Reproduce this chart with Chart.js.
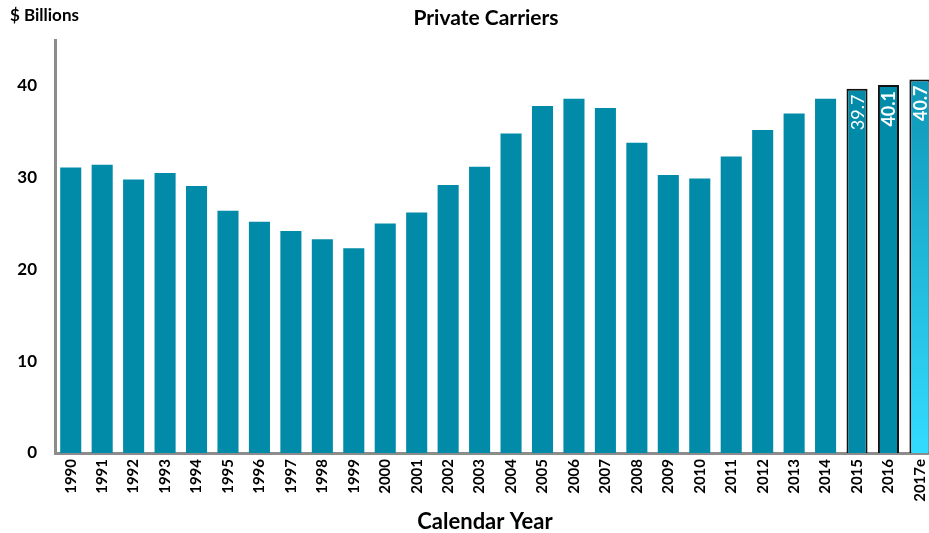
<!DOCTYPE html>
<html>
<head>
<meta charset="utf-8">
<script src="https://cdn.jsdelivr.net/npm/chart.js@4.4.1/dist/chart.umd.min.js"></script>
<style>
  html, body { margin: 0; padding: 0; background: #fff; overflow: hidden; }
  .wrap { width: 944px; height: 533px; }
</style>
</head>
<body>
<div class="wrap"><canvas id="chart-1" width="944" height="533"></canvas></div>
<script>
const years = ['1990','1991','1992','1993','1994','1995','1996','1997','1998','1999',
  '2000','2001','2002','2003','2004','2005','2006','2007','2008','2009',
  '2010','2011','2012','2013','2014','2015','2016','2017e'];
const premiums = [31.1,31.4,29.8,30.5,29.1,26.4,25.2,24.2,23.3,22.3,
  25.0,26.2,29.2,31.2,34.8,37.8,38.6,37.6,33.8,30.3,
  29.9,32.3,35.2,37.0,38.6,39.7,40.1,40.7];
const labelled = ['2015','2016','2017e'];
const yTicks = [0,10,20,30,40];

const teal = '#028ba8';
const font = 'Lato, "Open Sans", sans-serif';

const barFill = function(c){
  const yr = years[c.dataIndex];
  if(yr !== '2017e') return teal;
  const area = c.chart.chartArea;
  if(!area) return teal;
  const g = c.chart.ctx.createLinearGradient(0, area.top, 0, area.bottom);
  g.addColorStop(0, '#0a8fae');
  g.addColorStop(1, '#33dcff');
  return g;
};

const extras = {
  id: 'extras',
  afterDatasetsDraw(chart){
    const ctx = chart.ctx;
    const meta = chart.getDatasetMeta(0);
    ctx.save();
    ctx.fillStyle = '#ffffff';
    ctx.textBaseline = 'middle';
    ctx.textAlign = 'right';
    meta.data.forEach(function(bar, i){
      if(labelled.indexOf(years[i]) < 0) return;
      ctx.save();
      ctx.translate(bar.x, bar.y + 6);
      ctx.rotate(-Math.PI/2);
      ctx.font = (years[i] === '2015' ? '' : 'bold ') + '18px ' + font;
      ctx.fillText(premiums[i].toFixed(1), 0, 1);
      ctx.restore();
    });
    ctx.restore();
  },
  afterDraw(chart){
    const ctx = chart.ctx;
    ctx.save();
    ctx.fillStyle = '#000';
    ctx.textBaseline = 'middle';
    ctx.textAlign = 'left';
    ctx.font = 'bold 17px ' + font;
    ctx.fillText('$ Billions', 10, 16);
    ctx.textAlign = 'center';
    ctx.font = 'bold 21px ' + font;
    ctx.fillText('Private Carriers', 486, 18);
    ctx.font = 'bold 22px ' + font;
    ctx.fillText('Calendar Year', 485, 522);
    ctx.restore();
  }
};

const ctx = document.getElementById('chart-1').getContext('2d');
let myChart = new Chart(ctx, {
  type: 'bar',
  data: {
    labels: years,
    datasets: [{
      data: premiums,
      backgroundColor: barFill,
      borderColor: function(c){ return labelled.indexOf(years[c.dataIndex]) >= 0 ? '#111' : 'rgba(0,0,0,0)'; },
      borderWidth: function(c){ return labelled.indexOf(years[c.dataIndex]) >= 0 ? 2 : 0; },
      barPercentage: 0.67,
      categoryPercentage: 1
    }]
  },
  options: {
    responsive: false,
    animation: false,
    layout: { padding: { left: 0, right: 4, top: 40, bottom: 0 } },
    plugins: {
      legend: { display: false },
      tooltip: { enabled: false },
      title: { display: false }
    },
    scales: {
      x: {
        grid: { display: false, drawTicks: false },
        border: { color: '#8c8c8c', width: 3 },
        afterFit: function(scale){ scale.height = 80; },
        ticks: {
          color: '#000',
          font: { family: font, size: 15, weight: 'bold' },
          minRotation: 90, maxRotation: 90,
          autoSkip: false,
          padding: 6
        }
      },
      y: {
        min: 0, max: 45,
        grid: { display: false, drawTicks: false },
        border: { color: '#8c8c8c', width: 3 },
        afterBuildTicks: function(scale){
          scale.ticks = yTicks.map(function(v){ return { value: v }; });
        },
        afterFit: function(scale){ scale.width = 55; },
        ticks: {
          color: '#000',
          font: { family: font, size: 17, weight: 'bold' },
          padding: 18
        }
      }
    }
  },
  plugins: [extras]
});
</script>
</body>
</html>
